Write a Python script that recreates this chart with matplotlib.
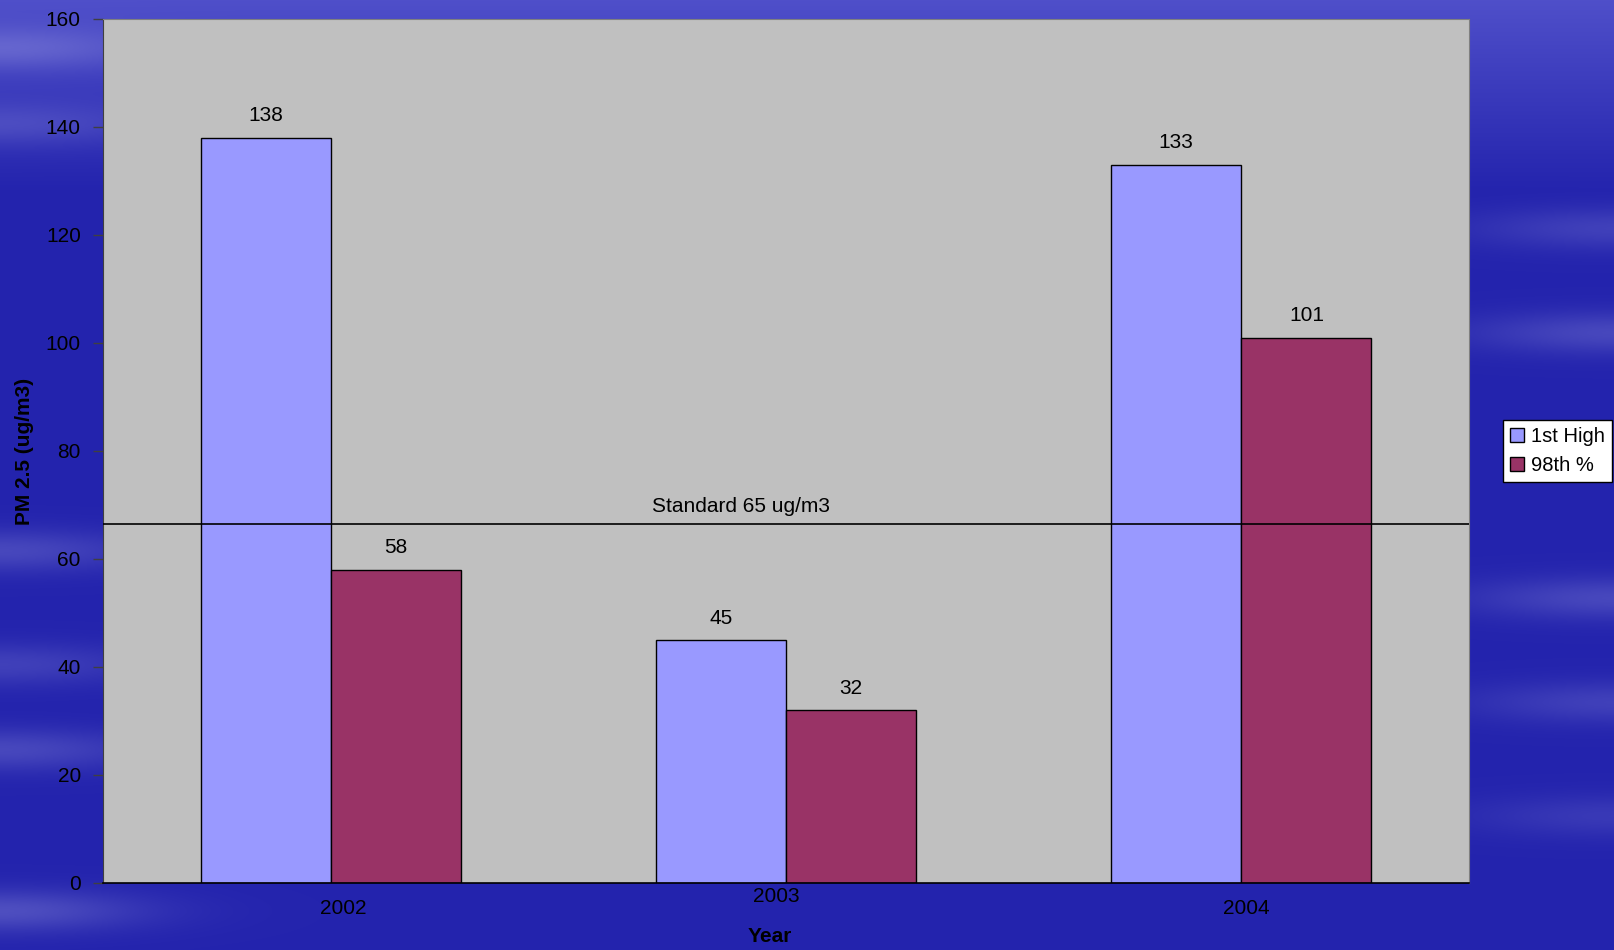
import matplotlib
matplotlib.use('Agg')
import matplotlib.pyplot as plt
import numpy as np

plt.rcParams['font.family'] = ['Liberation Sans', 'DejaVu Sans']

# data
years = ['2002', '2003', '2004']
first_high = [138, 45, 133]
pct_98 = [58, 32, 101]
series_names = ['1st High', '98th %']
standard_label = 'Standard 65 ug/m3'
standard_line = 66.5   # where the line sits in the picture
y_ticks = [0, 20, 40, 60, 80, 100, 120, 140, 160]

W, H = 1615, 950
FS = 15
fig = plt.figure(figsize=(W / 100, H / 100), dpi=100)

# blue "sky" background
bg = fig.add_axes([0, 0, 1, 1], zorder=-10)
yy, xx = np.mgrid[0:1:400j, 0:1:700j]
base = np.array([0.14, 0.14, 0.68])
top = np.array([0.31, 0.31, 0.79])
t = np.clip(1 - yy / 0.2, 0, 1)[..., None]
img = base + (top - base) * t
streaks = [(0.05, 'l', 0.30), (0.13, 'l', 0.20), (0.24, 'r', 0.20), (0.35, 'r', 0.25),
           (0.58, 'l', 0.25), (0.63, 'r', 0.25), (0.70, 'l', 0.20), (0.74, 'r', 0.20),
           (0.79, 'l', 0.25), (0.86, 'r', 0.15), (0.96, 'l', 0.30)]
for yc, side, amp in streaks:
    fade = np.exp(-((xx if side == 'l' else 1 - xx) / 0.09) ** 2)
    band = np.exp(-((yy - yc) / 0.022) ** 2)
    img = img + (np.array([0.70, 0.70, 0.92]) - img) * (amp * fade * band)[..., None]
bg.imshow(np.clip(img, 0, 1), extent=[0, 1, 0, 1], aspect='auto', origin='upper',
          interpolation='bicubic')
bg.set_axis_off()

ax = fig.add_axes([103 / W, 1 - 883 / H, 1366 / W, 864 / H])
ax.set_facecolor('#C0C0C0')

x = np.arange(len(years))
w = 1 / 3.5
ax.bar(x - w / 2, first_high, w, color='#9999FF', edgecolor='black', linewidth=1,
       label=series_names[0], zorder=2)
ax.bar(x + w / 2, pct_98, w, color='#993366', edgecolor='black', linewidth=1,
       label=series_names[1], zorder=2)

for xi, v in zip(x - w / 2, first_high):
    ax.annotate(str(v), (xi, v), xytext=(0, 9), textcoords='offset points',
                ha='center', va='bottom', fontsize=FS)
for xi, v in zip(x + w / 2, pct_98):
    ax.annotate(str(v), (xi, v), xytext=(0, 9), textcoords='offset points',
                ha='center', va='bottom', fontsize=FS)

ax.axhline(standard_line, color='black', linewidth=1.2, zorder=3)
ax.text(741 / W, 1 - 506 / H, standard_label, transform=fig.transFigure,
        ha='center', va='center', fontsize=FS)

ax.set_xlim(-0.5, 2.5)
ax.set_ylim(0, 160)
ax.set_yticks(y_ticks)
ax.tick_params(axis='y', direction='out', length=7, width=1, color='#404040',
               labelsize=FS, pad=9)
ax.set_xticks([])
# staggered category labels, as drawn in the reference
label_dx = [13, -10, 5]
for i, yr in enumerate(years):
    ypos = 897 if i % 2 == 1 else 909
    fig.text((103 + 455.3 * (i + 0.5) + label_dx[i]) / W, 1 - ypos / H, yr,
             ha='center', va='center', fontsize=FS)

for s in ['top', 'right']:
    ax.spines[s].set_color('#808080')
ax.spines['left'].set_color('#404040')
ax.spines['bottom'].set_color('black')
ax.spines['bottom'].set_linewidth(1.2)

fig.text(25 / W, 1 - 451 / H, 'PM 2.5 (ug/m3)', rotation=90, ha='center', va='center',
         fontsize=FS, fontweight='bold')
fig.text(770 / W, 1 - 937 / H, 'Year', ha='center', va='center',
         fontsize=FS, fontweight='bold')

leg = ax.legend(loc='upper left', bbox_to_anchor=(1503 / W, 1 - 420 / H),
                bbox_transform=fig.transFigure, borderaxespad=0, fontsize=14.5,
                handlelength=0.7, handleheight=0.7, handletextpad=0.35,
                labelspacing=0.5, borderpad=0.35, fancybox=False, framealpha=1)
leg.get_frame().set_edgecolor('black')
leg.get_frame().set_linewidth(1)

fig.savefig('out.png', dpi=100)
